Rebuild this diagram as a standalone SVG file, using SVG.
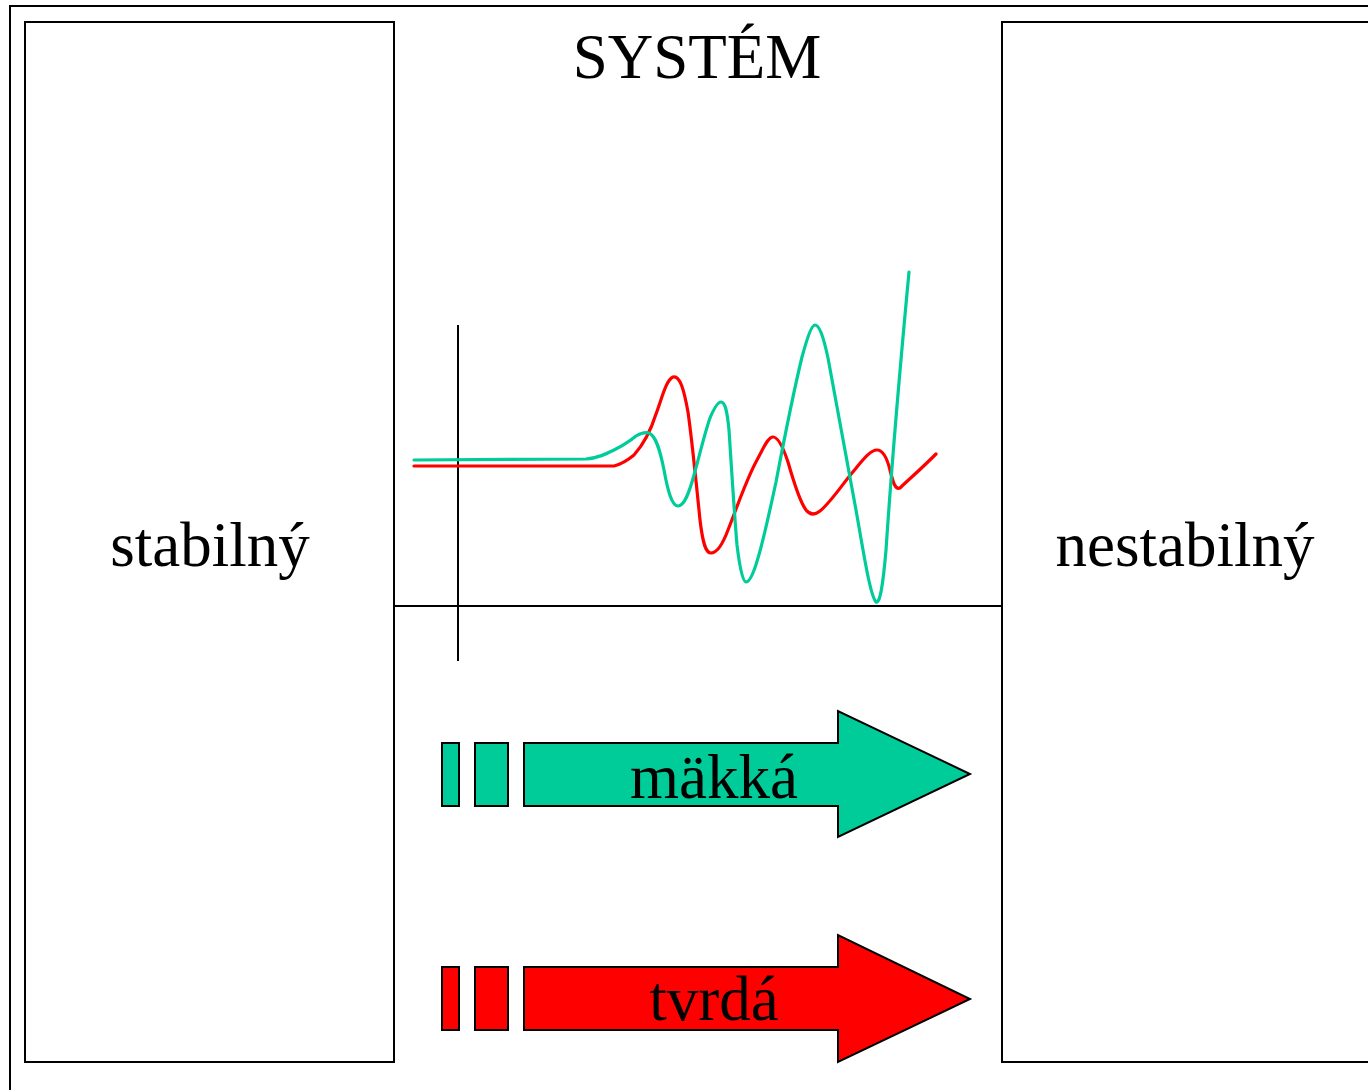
<svg xmlns="http://www.w3.org/2000/svg" width="1368" height="1090" viewBox="0 0 1368 1090">
<style>
.frame{fill:none;stroke:#000;stroke-width:2}
.box{fill:#fff;stroke:#000;stroke-width:2}
.lbl{font-family:"Liberation Serif","Times New Roman",serif;font-size:63px;fill:#000}
.axis{stroke:#000;stroke-width:2;fill:none}
.curve{fill:none;stroke-width:3.2;stroke-linejoin:round;stroke-linecap:round}
.green{fill:#00CC99;stroke:#000;stroke-width:2}
.red{fill:#FF0000;stroke:#000;stroke-width:2}
</style>
<rect x="0" y="0" width="1368" height="1090" fill="#fff"/>
<rect class="frame" x="10" y="6" width="1375" height="1100"/>
<g id="stabilny">
<rect class="box" x="25" y="22" width="369" height="1040"/>
<text class="lbl" x="210" y="566" text-anchor="middle">stabilný</text>
</g>
<g id="nestabilny">
<rect class="box" x="1002" y="22" width="400" height="1040"/>
<text class="lbl" x="1185" y="566" text-anchor="middle">nestabilný</text>
</g>
<g id="system">
<text class="lbl" x="697" y="78" text-anchor="middle">SYSTÉM</text>
</g>
<g id="chart">
<line class="axis" x1="394" y1="606" x2="1002" y2="606"/>
<line class="axis" x1="458" y1="325" x2="458" y2="661"/>
<path class="curve" stroke="#FF0000" d="M414,466 L614,466 C622,464 628,460 634,455 C642,446 650,433 656,414 C662,398 666,380 673,377 C680,375 684,390 688,412 C692,440 696,480 700,520 C703,545 706,553 711,553 C716,553 722,546 728,530 C736,510 746,480 757,460 C764,447 768,437 773,437 C778,437 783,447 788,462 C794,483 800,502 806,510 C810,515 815,515 820,511 C830,503 842,485 852,473 C862,461 870,450 877,450 C883,450 887,458 890,470 C893,482 895,490 900,488 C908,480 918,472 936,454"/>
<path class="curve" stroke="#00CC99" d="M414,460 L586,459 C598,458 606,454 614,450 C622,446 630,441 636,436 C641,433 645,432 649,433 C656,436 660,450 664,470 C668,492 672,506 678,506 C684,506 688,495 692,482 C698,462 704,435 710,418 C715,406 718,402 721,402 C725,402 727,410 729,430 C731,460 734,510 737,545 C740,570 743,582 746,582 C750,582 754,572 758,558 C764,538 770,510 776,482 C784,440 794,390 802,357 C808,335 812,325 815,325 C819,325 823,335 828,358 C836,400 846,455 856,510 C864,555 870,595 876,602 C880,604 883,585 886,550 C890,490 896,410 909,272"/>
</g>
<g id="makka">
<rect class="green" x="442" y="743" width="17" height="63"/>
<rect class="green" x="475" y="743" width="33" height="63"/>
<polygon class="green" points="524,743 838,743 838,711 970,774 838,837 838,806 524,806"/>
<text class="lbl" x="714" y="798" text-anchor="middle">mäkká</text>
</g>
<g id="tvrda">
<rect class="red" x="442" y="967" width="17" height="63"/>
<rect class="red" x="475" y="967" width="33" height="63"/>
<polygon class="red" points="524,967 838,967 838,935 970,999 838,1062 838,1030 524,1030"/>
<text class="lbl" x="714" y="1020" text-anchor="middle">tvrdá</text>
</g>
</svg>
